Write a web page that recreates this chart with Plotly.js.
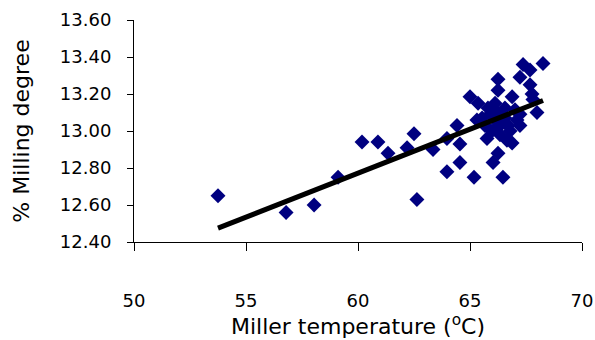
<!DOCTYPE html>
<html>
<head>
<meta charset="utf-8">
<script src="https://cdn.plot.ly/plotly-3.0.1.min.js"></script>
<style>html,body{margin:0;padding:0;background:#fff;}#chart{width:595px;height:340px;}</style>
</head>
<body>
<div id="chart"></div>
<script>
// Miller temperature (°C)
const temperature = [53.75, 56.79, 58.04, 59.11, 60.18, 60.89, 61.34, 62.19, 62.50, 62.63,
  63.35, 63.97, 63.97, 64.42, 64.55, 64.55, 65.18, 65.31, 65.00, 65.36,
  66.25, 66.25, 66.88, 66.12, 65.76, 66.03, 66.25, 66.47, 66.65, 66.88,
  67.23, 67.10, 67.23, 67.99, 67.81, 67.77, 67.68, 67.23, 67.37, 67.68,
  68.26, 65.89, 66.12, 66.34, 66.56, 65.67, 65.98, 66.34, 66.79, 66.56,
  67.01, 65.54, 66.20, 66.70, 65.80];
// % Milling degree
const milling = [12.65, 12.56, 12.60, 12.75, 12.94, 12.94, 12.88, 12.91, 12.985, 12.63,
  12.90, 12.96, 12.78, 13.03, 12.93, 12.83, 12.75, 13.06, 13.185, 13.15,
  13.28, 13.22, 13.185, 13.15, 12.96, 12.83, 12.88, 12.75, 12.95, 12.935,
  13.03, 13.06, 13.09, 13.10, 13.17, 13.20, 13.25, 13.29, 13.36, 13.33,
  13.365, 13.09, 13.06, 13.03, 13.07, 13.03, 13.00, 12.98, 13.00, 13.125,
  13.115, 13.07, 13.10, 13.03, 13.125];
// Linear trendline end points
const trendX = [53.75, 68.26];
const trendY = [12.475, 13.165];
const xTicks = [50, 55, 60, 65, 70];
const yTicks = [12.4, 12.6, 12.8, 13.0, 13.2, 13.4, 13.6];

const font = "DejaVu Sans, Liberation Sans, Arial, sans-serif";
const data = [
  {x: temperature, y: milling, type: 'scatter', mode: 'markers',
   marker: {symbol: 'diamond', size: 11.5, color: '#000080'}, hoverinfo: 'skip'},
  {x: trendX, y: trendY, type: 'scatter', mode: 'lines',
   line: {color: '#000000', width: 5}, hoverinfo: 'skip'}
];
const layout = {
  width: 595, height: 340,
  margin: {l: 134, r: 13, t: 20, b: 98},
  paper_bgcolor: '#ffffff', plot_bgcolor: '#ffffff',
  showlegend: false,
  font: {family: font, size: 18, color: '#000000'},
  xaxis: {
    range: [50, 70], tickvals: xTicks, ticktext: xTicks.map(String),
    showgrid: false, zeroline: false, showline: true, linecolor: '#000', linewidth: 1,
    ticks: 'outside', ticklen: 8, tickcolor: '#000',
    ticklabelstandoff: 34,
    tickfont: {family: font, size: 18},
    title: {text: 'Miller temperature (<sup>o</sup>C)', font: {family: font, size: 22}, standoff: 0}
  },
  yaxis: {
    range: [12.4, 13.6], tickvals: yTicks, ticktext: yTicks.map(v => v.toFixed(2)),
    showgrid: false, zeroline: false, showline: true, linecolor: '#000', linewidth: 1,
    ticks: 'outside', ticklen: 6, tickcolor: '#000',
    ticklabelstandoff: 12,
    tickfont: {family: font, size: 18},
    title: {text: '% Milling degree', font: {family: font, size: 22}, standoff: 24}
  }
};
Plotly.newPlot('chart', data, layout, {staticPlot: true, displayModeBar: false});
</script>
</body>
</html>
